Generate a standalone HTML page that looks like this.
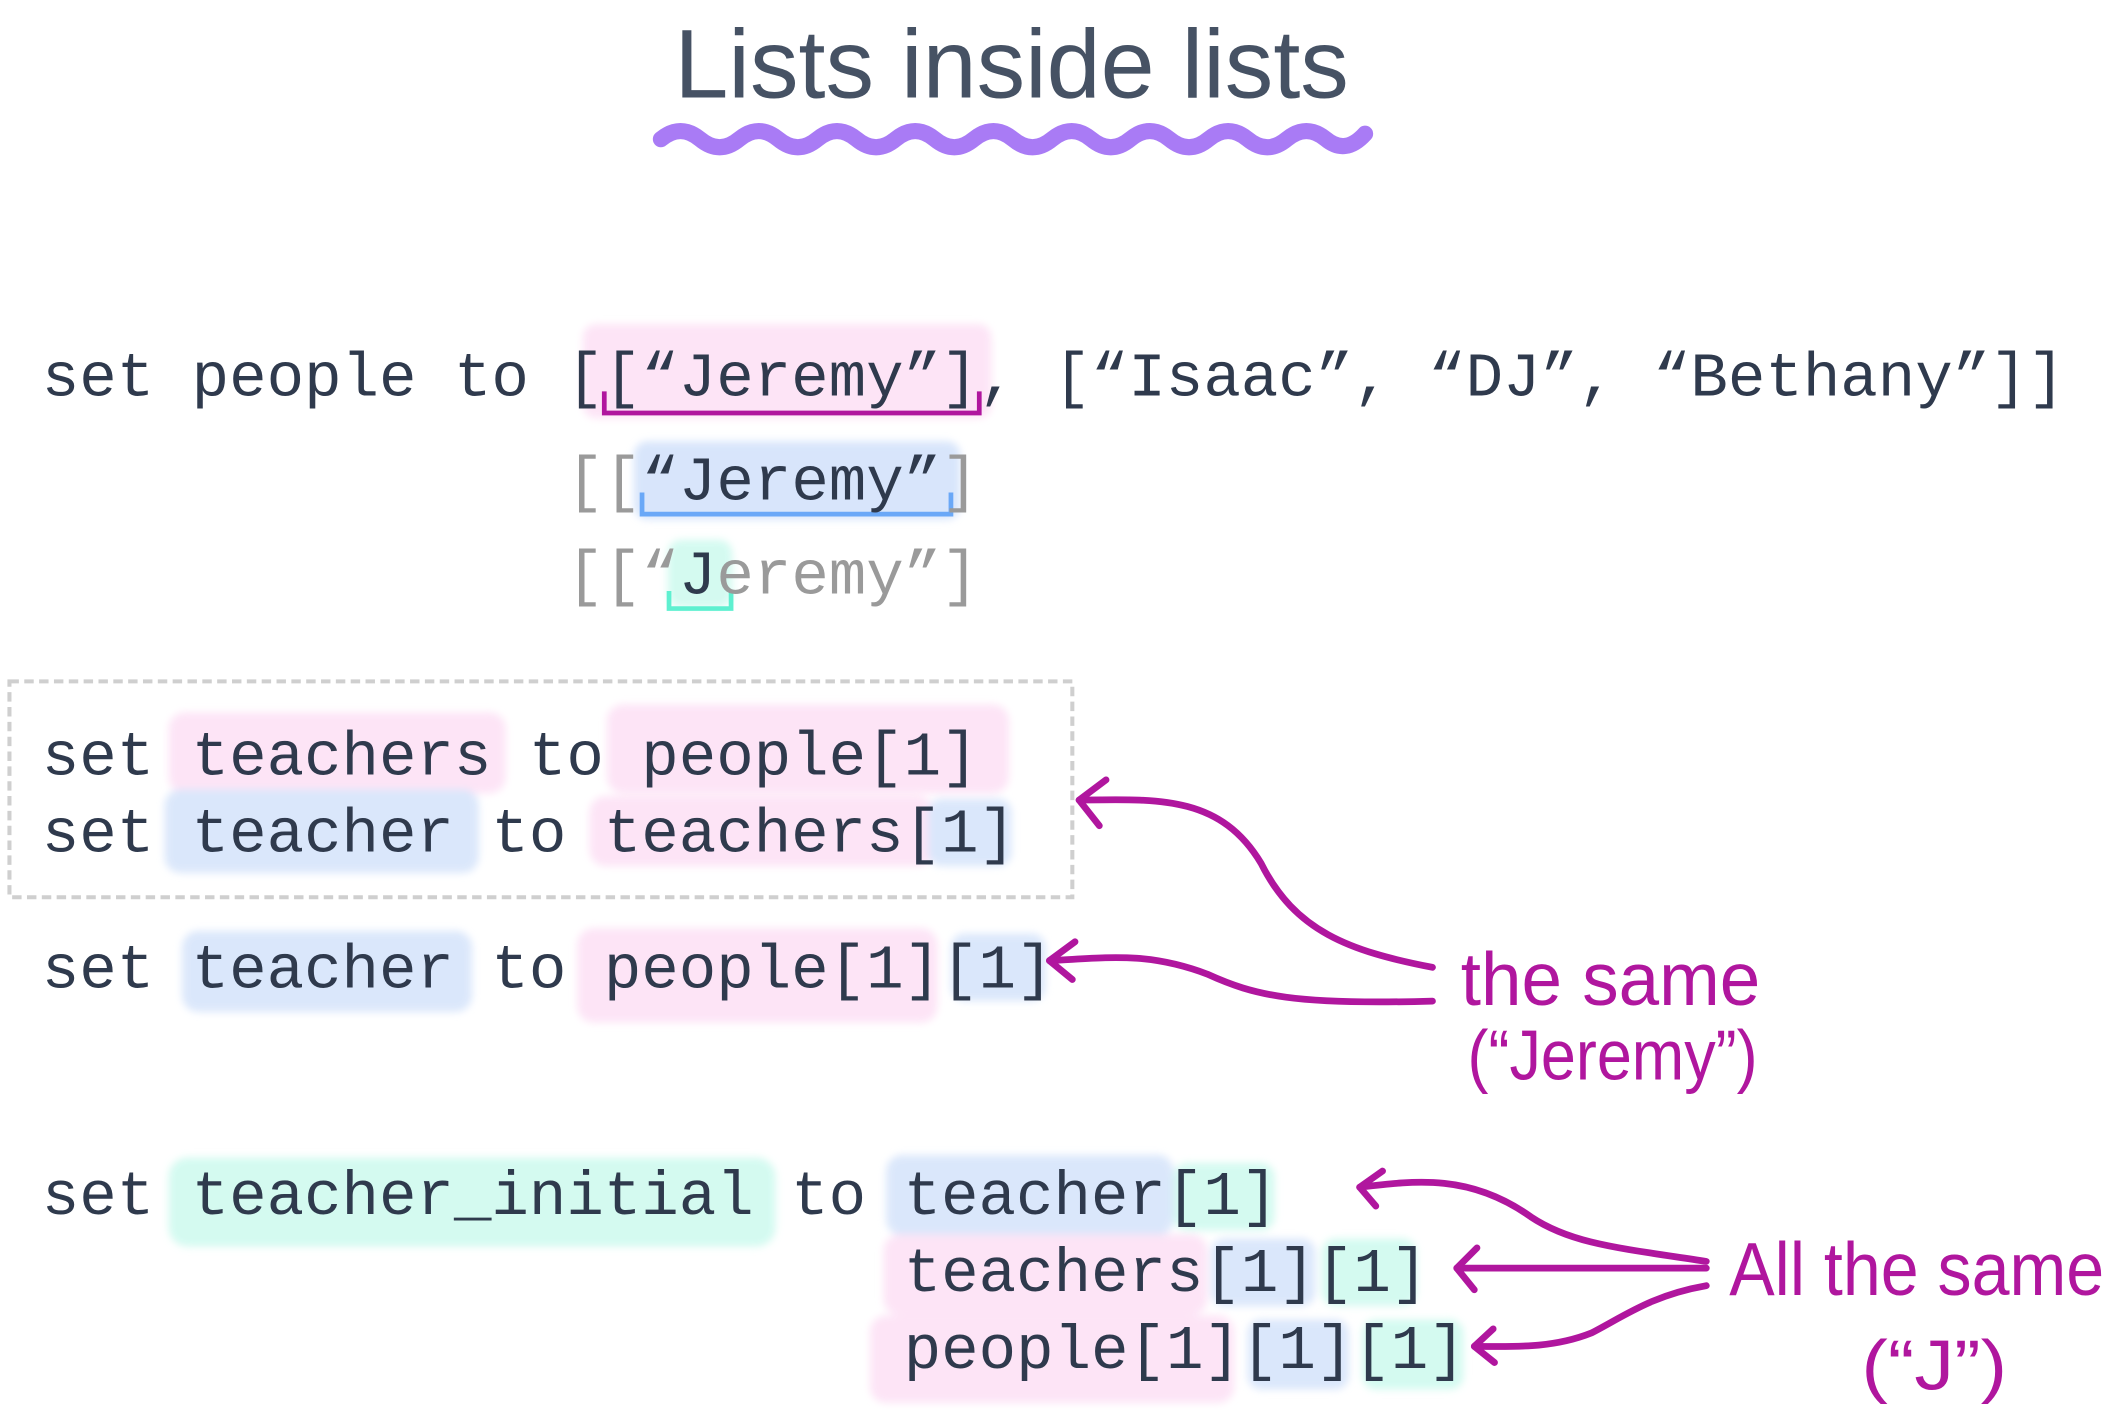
<!DOCTYPE html>
<html><head><meta charset="utf-8"><style>
html,body{margin:0;padding:0;background:#fff;}
svg{display:block;}
.m{font-family:"Liberation Mono",monospace;font-size:46.3px;fill:#2f3a4d;}
.g{fill:#9a9a9a;}
.h{font-family:"Liberation Sans",sans-serif;fill:#b0169e;}
</style></head><body>
<svg width="2115" height="1410" viewBox="0 0 1568 1045" xmlns="http://www.w3.org/2000/svg">
<defs><filter id="b" x="-20%" y="-30%" width="140%" height="160%"><feGaussianBlur stdDeviation="3"/></filter></defs>

<!-- title -->
<text x="500" y="72" font-family="Liberation Sans, sans-serif" font-size="72" fill="#465264" textLength="500" lengthAdjust="spacingAndGlyphs">Lists inside  lists</text>
<path d="M490 103 q14.5 -12 29 0 t29 0 t29 0 t29 0 t29 0 t29 0 t29 0 t29 0 t29 0 t29 0 t29 0 t29 0 t29 0 t29 0 t29 0 t29 0 t29 0 t29 -4" fill="none" stroke="#a97bf5" stroke-width="12" stroke-linecap="round"/>

<!-- highlights -->
<g filter="url(#b)" opacity="0.95">
<rect x="432" y="240" width="303" height="70" rx="10" fill="#fde3f6"/>
<rect x="470" y="327" width="242" height="58" rx="10" fill="#d6e4fb"/>
<rect x="495" y="400" width="48" height="50" rx="10" fill="#d2faf0"/>
<rect x="125" y="528" width="250" height="60" rx="12" fill="#fde3f6"/>
<rect x="450" y="522" width="298" height="66" rx="12" fill="#fde3f6"/>
<rect x="122" y="585" width="233" height="62" rx="12" fill="#d9e6fb"/>
<rect x="437" y="590" width="255" height="52" rx="12" fill="#fde3f6"/>
<rect x="688" y="592" width="62" height="50" rx="10" fill="#d9e6fb"/>
<rect x="135" y="690" width="215" height="60" rx="12" fill="#d9e6fb"/>
<rect x="428" y="688" width="267" height="70" rx="12" fill="#fde3f6"/>
<rect x="705" y="692" width="70" height="50" rx="10" fill="#d9e6fb"/>
<rect x="125" y="858" width="450" height="66" rx="14" fill="#d2faf0"/>
<rect x="657" y="856" width="213" height="60" rx="12" fill="#d9e6fb"/>
<rect x="870" y="862" width="75" height="50" rx="10" fill="#d2faf0"/>
<rect x="655" y="915" width="240" height="60" rx="12" fill="#fde3f6"/>
<rect x="898" y="918" width="77" height="50" rx="10" fill="#d9e6fb"/>
<rect x="980" y="918" width="70" height="50" rx="10" fill="#d2faf0"/>
<rect x="645" y="975" width="270" height="65" rx="12" fill="#fde3f6"/>
<rect x="925" y="978" width="75" height="52" rx="10" fill="#d9e6fb"/>
<rect x="1010" y="978" width="75" height="52" rx="10" fill="#d2faf0"/>
</g>

<!-- underline brackets -->
<path d="M448 290 V306 H726 V290" fill="none" stroke="#b0169e" stroke-width="3.5"/>
<path d="M476 365 V381 H705 V365" fill="none" stroke="#6aa8f7" stroke-width="3.5"/>
<path d="M496 438 V451 H542 V438" fill="none" stroke="#5ef0d0" stroke-width="3.5"/>

<!-- dashed box -->
<rect x="7" y="505" width="788" height="160" fill="none" stroke="#cfcfcf" stroke-width="3" stroke-dasharray="7 4"/>

<!-- code -->
<text class="m" x="31" y="293" xml:space="preserve">set people to [[“Jeremy”], [“Isaac”, “DJ”, “Bethany”]]</text>
<text class="m" x="420" y="370" xml:space="preserve"><tspan class="g">[[</tspan>“Jeremy”<tspan class="g">]</tspan></text>
<text class="m" x="420" y="440" xml:space="preserve"><tspan class="g">[[“</tspan>J<tspan class="g">eremy”]</tspan></text>
<text class="m" x="31" y="574" xml:space="preserve">set teachers to people[1]</text>
<text class="m" x="31" y="631" xml:space="preserve">set teacher to teachers[1]</text>
<text class="m" x="31" y="732" xml:space="preserve">set teacher to people[1][1]</text>
<text class="m" x="31" y="900" xml:space="preserve">set teacher_initial to teacher[1]</text>
<text class="m" x="670" y="957" xml:space="preserve">teachers[1][1]</text>
<text class="m" x="670" y="1014" xml:space="preserve">people[1][1][1]</text>

<!-- arrows -->
<g fill="none" stroke="#b0169e" stroke-width="5" stroke-linecap="round" stroke-linejoin="round">
<path d="M1062 717 C1000 705 960 690 935 640 C905 590 860 592 800 593"/>
<path d="M820 578 L800 593 L815 612"/>
<path d="M1062 742 C960 745 930 738 895 722 C850 705 820 710 778 712"/>
<path d="M797 698 L778 712 L795 726"/>
<path d="M1265 935 C1200 925 1165 922 1135 902 C1090 870 1050 875 1008 880"/>
<path d="M1025 868 L1008 880 L1020 894"/>
<path d="M1265 940 L1080 940"/>
<path d="M1095 925 L1080 940 L1093 956"/>
<path d="M1265 953 C1225 960 1205 975 1180 988 C1150 1000 1120 998 1093 998"/>
<path d="M1107 985 L1093 998 L1108 1010"/>
</g>

<!-- handwritten labels -->
<text class="h" x="1083" y="745" font-size="56" textLength="222" lengthAdjust="spacingAndGlyphs">the same</text>
<text class="h" x="1088" y="800" font-size="52" textLength="215" lengthAdjust="spacingAndGlyphs">(“Jeremy”)</text>
<text class="h" x="1282" y="960" font-size="56" textLength="278" lengthAdjust="spacingAndGlyphs">All the same</text>
<text class="h" x="1380" y="1030" font-size="52" textLength="108" lengthAdjust="spacingAndGlyphs">(“J”)</text>
</svg>
</body></html>
